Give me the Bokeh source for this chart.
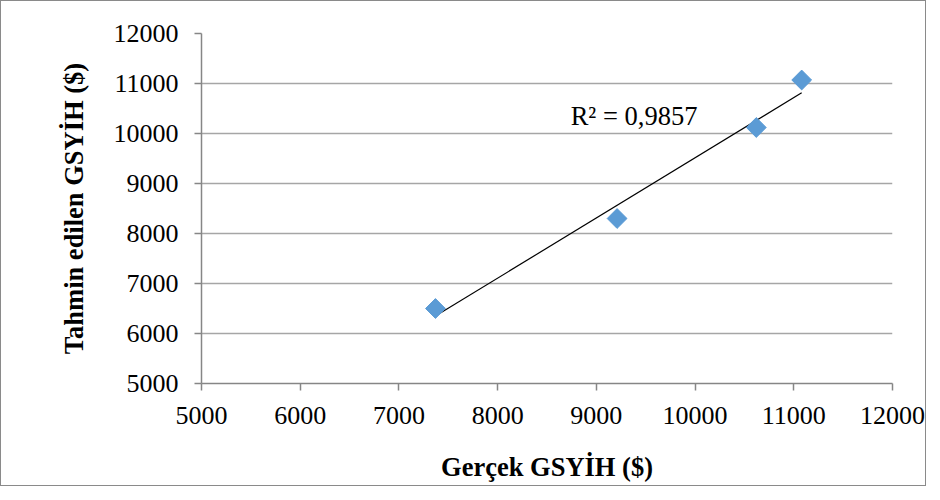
import numpy as np
from bokeh.plotting import figure
from bokeh.models import Range1d, FixedTicker, Label, ColumnDataSource
from bokeh.embed import file_html
from bokeh.resources import INLINE

# Data
actual_gdp = [7370, 9210, 10620, 11080]
predicted_gdp = [6500, 8300, 10120, 11070]
x_ticks = [5000, 6000, 7000, 8000, 9000, 10000, 11000, 12000]
y_ticks = [5000, 6000, 7000, 8000, 9000, 10000, 11000, 12000]
r2_label = "R² = 0,9857"
x_title = "Gerçek GSYİH ($)"
y_title = "Tahmin edilen GSYİH ($)"

FONT = "Liberation Serif"
AXIS_GRAY = "#868686"
GRID_GRAY = "#a6a6a6"

p = figure(
    frame_width=691, frame_height=350,
    min_border_left=200, min_border_right=33,
    min_border_top=32, min_border_bottom=102,
    x_range=Range1d(5000, 12000), y_range=Range1d(5000, 12000),
    output_backend="svg", toolbar_location=None,
)
p.styles = {"border": "1px solid #8a8a8a"}
p.outline_line_color = None
p.background_fill_color = "white"
p.border_fill_color = "white"

# trendline via linear fit
slope, intercept = np.polyfit(actual_gdp, predicted_gdp, 1)
xs = np.array([min(actual_gdp), max(actual_gdp)])
p.line(xs, slope * xs + intercept, line_color="black", line_width=1.2)

src = ColumnDataSource(dict(x=actual_gdp, y=predicted_gdp))
p.scatter("x", "y", source=src, marker="square", angle=np.pi / 4, size=14,
          fill_color="#5b9bd5", line_color="#5b9bd5")

p.add_layout(Label(x=8740, y=10360, text=r2_label, text_font=FONT,
                   text_font_size="26.5px", text_color="black",
                   text_baseline="alphabetic"))

p.xgrid.visible = False
p.ygrid.grid_line_color = GRID_GRAY
p.ygrid.grid_line_width = 1.5
p.xaxis.ticker = FixedTicker(ticks=x_ticks)
p.yaxis.ticker = FixedTicker(ticks=y_ticks)

for ax in (p.xaxis[0], p.yaxis[0]):
    ax.axis_line_color = AXIS_GRAY
    ax.axis_line_width = 1.5
    ax.major_tick_line_color = AXIS_GRAY
    ax.major_tick_line_width = 1.5
    ax.major_tick_in = 0
    ax.major_tick_out = 7
    ax.minor_tick_line_color = None
    ax.major_label_text_font = FONT
    ax.major_label_text_font_size = "26px"
    ax.major_label_text_color = "black"
    ax.axis_label_text_font = FONT
    ax.axis_label_text_font_size = "26.5px"
    ax.axis_label_text_font_style = "bold"
    ax.axis_label_text_color = "black"

p.xaxis.axis_label = x_title
p.yaxis.axis_label = y_title
p.xaxis.major_label_standoff = 16
p.yaxis.major_label_standoff = 16
p.xaxis.axis_label_standoff = 25
p.yaxis.axis_label_standoff = 22

open("out.html", "w").write(file_html(p, INLINE))
